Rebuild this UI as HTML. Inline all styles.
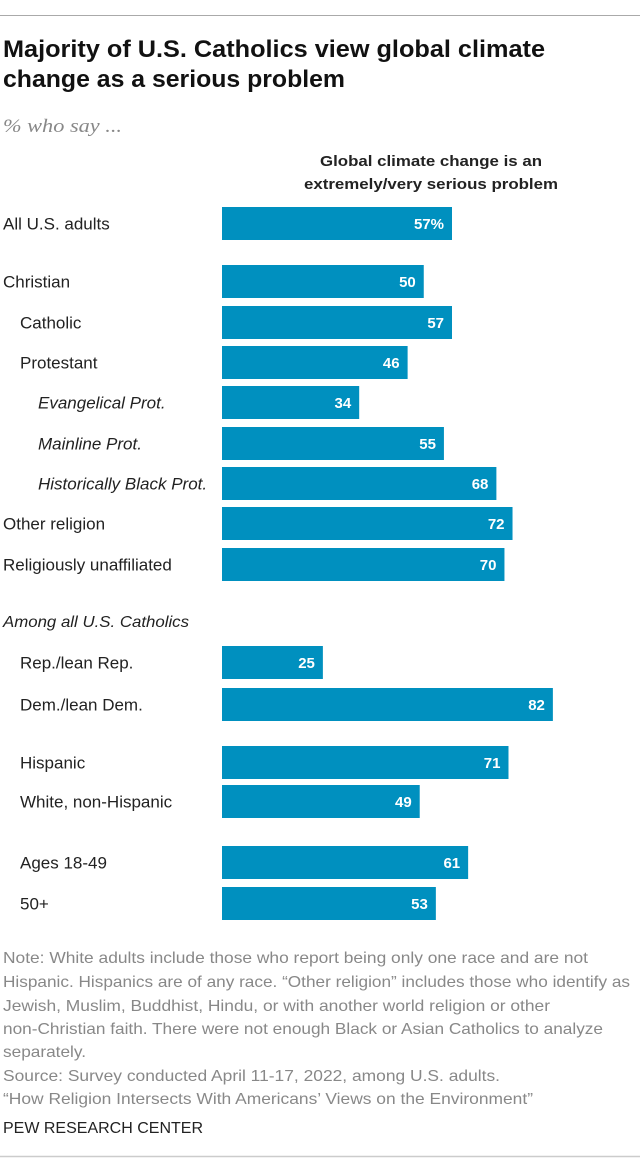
<!DOCTYPE html>
<html><head><meta charset="utf-8"><style>
body{margin:0;background:#fff;}
svg{display:block;font-family:"Liberation Sans",sans-serif;}
</style></head><body>
<svg id="chart" width="640" height="1165" viewBox="0 0 640 1165">
<line x1="0" y1="15.5" x2="640" y2="15.5" stroke="#aaa" stroke-width="1"/>
<text x="3" y="57" font-size="24" font-weight="bold" fill="#111" textLength="542" lengthAdjust="spacingAndGlyphs">Majority of U.S. Catholics view global climate</text>
<text x="3" y="87" font-size="24" font-weight="bold" fill="#111" textLength="342" lengthAdjust="spacingAndGlyphs">change as a serious problem</text>
<text x="3" y="132" font-size="19" font-style="italic" fill="#888" font-family="Liberation Serif,serif" textLength="119" lengthAdjust="spacingAndGlyphs">% who say ...</text>
<text x="431" y="166" font-size="15" font-weight="bold" fill="#222" text-anchor="middle" textLength="222" lengthAdjust="spacingAndGlyphs">Global climate change is an</text>
<text x="431" y="189" font-size="15" font-weight="bold" fill="#222" text-anchor="middle" textLength="254" lengthAdjust="spacingAndGlyphs">extremely/very serious problem</text>
<text x="3" y="627" font-size="16" font-style="italic" fill="#222" textLength="186" lengthAdjust="spacingAndGlyphs">Among all U.S. Catholics</text>
<g id="bars"></g>
<g font-size="16" fill="#888">
<text x="3" y="963" textLength="585" lengthAdjust="spacingAndGlyphs">Note: White adults include those who report being only one race and are not</text>
<text x="3" y="987" textLength="627" lengthAdjust="spacingAndGlyphs">Hispanic. Hispanics are of any race. “Other religion” includes those who identify as</text>
<text x="3" y="1011" textLength="547" lengthAdjust="spacingAndGlyphs">Jewish, Muslim, Buddhist, Hindu, or with another world religion or other</text>
<text x="3" y="1034" textLength="600" lengthAdjust="spacingAndGlyphs">non-Christian faith. There were not enough Black or Asian Catholics to analyze</text>
<text x="3" y="1057" textLength="83" lengthAdjust="spacingAndGlyphs">separately.</text>
<text x="3" y="1081" textLength="497" lengthAdjust="spacingAndGlyphs">Source: Survey conducted April 11-17, 2022, among U.S. adults.</text>
<text x="3" y="1104" textLength="530" lengthAdjust="spacingAndGlyphs">“How Religion Intersects With Americans’ Views on the Environment”</text>
</g>
<text x="3" y="1133" font-size="16" fill="#222" textLength="200" lengthAdjust="spacingAndGlyphs">PEW RESEARCH CENTER</text>
<line x1="0" y1="1156.5" x2="640" y2="1156.5" stroke="#ccc" stroke-width="1.5"/>
</svg>
<script>
const categories=["All U.S. adults","Christian","Catholic","Protestant","Evangelical Prot.","Mainline Prot.","Historically Black Prot.","Other religion","Religiously unaffiliated","Rep./lean Rep.","Dem./lean Dem.","Hispanic","White, non-Hispanic","Ages 18-49","50+"];
const values=[57,50,57,46,34,55,68,72,70,25,82,71,49,61,53];
const valueLabels=["57%","50","57","46","34","55","68","72","70","25","82","71","49","61","53"];
const indentLevel=[0,0,1,1,2,2,2,0,0,1,1,1,1,1,1];
const rowTops=[207,265,306,346,386,427,467,507,548,646,688,746,785,846,887];
const X0=222, PX_PER=230/57, BAR_H=33;
function xScale(v){return X0+v*PX_PER;}
const NS="http://www.w3.org/2000/svg";
const g=document.getElementById('bars');
categories.forEach((c,i)=>{
  const y=rowTops[i];
  const lab=document.createElementNS(NS,'text');
  
  
  lab.setAttribute('x',[3,20,38][indentLevel[i]]);
  lab.setAttribute('y',y+BAR_H/2+6);
  lab.setAttribute('font-size','17');
  lab.setAttribute('fill','#222');
  if(indentLevel[i]===2) lab.setAttribute('font-style','italic');
  lab.textContent=c;
  g.appendChild(lab);
  const r=document.createElementNS(NS,'rect');
  
  
  r.setAttribute('x',X0);r.setAttribute('y',y);
  r.setAttribute('width',xScale(values[i])-X0);r.setAttribute('height',BAR_H);
  r.setAttribute('fill','#0090bf');
  g.appendChild(r);
  const t=document.createElementNS(NS,'text');
  
  
  t.setAttribute('x',xScale(values[i])-8);
  t.setAttribute('y',y+BAR_H/2+5.5);
  t.setAttribute('font-size','15');
  t.setAttribute('font-weight','bold');
  t.setAttribute('fill','#fff');
  t.setAttribute('text-anchor','end');
  t.textContent=valueLabels[i];
  g.appendChild(t);
});
</script>
</body></html>
